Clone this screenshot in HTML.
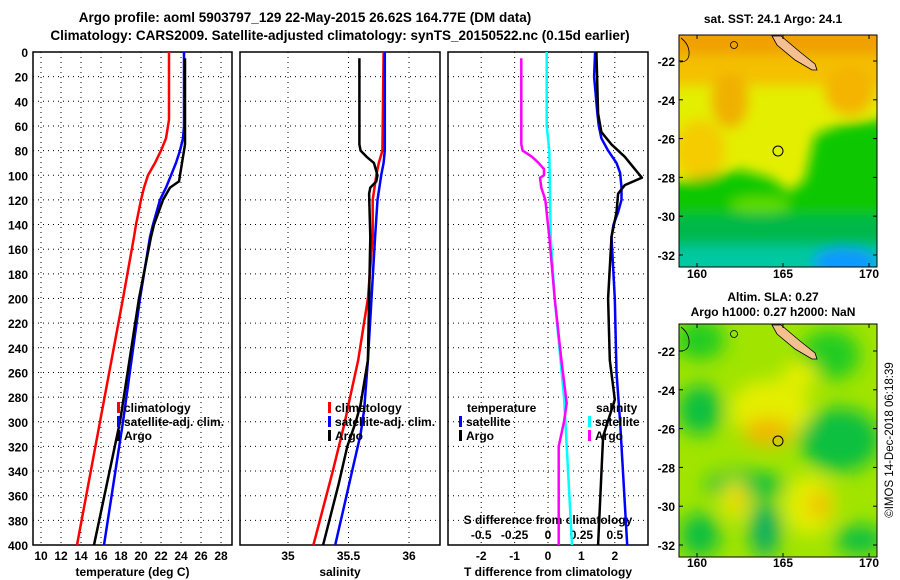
<!DOCTYPE html>
<html><head><meta charset="utf-8">
<style>
body{margin:0;background:#fff;}
svg{display:block;font-family:"Liberation Sans",sans-serif;font-weight:bold;}
</style></head>
<body>
<svg id="chart" width="900" height="580" viewBox="0 0 900 580" xmlns="http://www.w3.org/2000/svg">
<defs>
<filter id="blur1" x="-20%" y="-20%" width="140%" height="140%"><feGaussianBlur stdDeviation="6"/></filter>
<filter id="blur2" x="-20%" y="-20%" width="140%" height="140%"><feGaussianBlur stdDeviation="9"/></filter>
<clipPath id="clipMap1"><rect x="679" y="35" width="198" height="232"/></clipPath>
<clipPath id="clipMap2"><rect x="679" y="324" width="198" height="233"/></clipPath>
</defs>
<text x="305" y="22" font-size="13.5" text-anchor="middle">Argo profile: aoml 5903797_129 22-May-2015 26.62S 164.77E (DM data)</text>
<text x="340" y="40" font-size="13.5" text-anchor="middle">Climatology: CARS2009. Satellite-adjusted climatology: synTS_20150522.nc (0.15d earlier)</text>

<g clip-path="url(#clipMap1)">
<rect x="679" y="35" width="198" height="232" fill="#e4ee00"/>
<g filter="url(#blur1)">
<rect x="660" y="20" width="240" height="40" fill="#f0a000"/>
<rect x="660" y="55" width="240" height="30" fill="#f4c000"/>
<ellipse cx="730" cy="100" rx="18" ry="28" fill="#f0b000"/>
<ellipse cx="850" cy="90" rx="25" ry="25" fill="#f4b400"/>
<ellipse cx="700" cy="150" rx="25" ry="30" fill="#f4cc00"/>
<polygon points="660,185 700,178 740,170 770,178 790,192 805,180 815,135 840,125 880,120 900,120 900,300 660,300" fill="#10c800"/>
<rect x="660" y="215" width="240" height="60" fill="#00b848"/>
<rect x="660" y="245" width="240" height="40" fill="#00c8a0"/>
<ellipse cx="845" cy="262" rx="32" ry="14" fill="#1098ff"/>
<ellipse cx="760" cy="205" rx="30" ry="8" fill="#60dc00"/>
</g>
<polygon points="772,36 781,36 800,52 815,64 817,70 812,70 795,60 777,45" fill="#f4c090" stroke="#000" stroke-width="0.8"/>
<path d="M681,38 Q690,45 689,55 Q688,62 680,62" fill="none" stroke="#000" stroke-width="0.8"/>
<circle cx="734" cy="45" r="3.5" fill="none" stroke="#000" stroke-width="0.8"/>
<circle cx="778" cy="151" r="5" fill="none" stroke="#000" stroke-width="1"/>
</g>
<rect x="679" y="35" width="198" height="232" fill="none" stroke="#000" stroke-width="1"/>
<text x="773" y="23" font-size="12" text-anchor="middle">sat. SST: 24.1 Argo: 24.1</text>

<g clip-path="url(#clipMap2)">
<rect x="679" y="324" width="198" height="233" fill="#a0e400"/>
<g filter="url(#blur2)">
<ellipse cx="700" cy="340" rx="25" ry="20" fill="#20cc20"/>
<ellipse cx="830" cy="355" rx="30" ry="25" fill="#20cc20"/>
<ellipse cx="700" cy="410" rx="22" ry="25" fill="#10c040"/>
<ellipse cx="840" cy="440" rx="40" ry="32" fill="#10c040"/>
<ellipse cx="770" cy="410" rx="40" ry="30" fill="#e4ee00"/>
<ellipse cx="768" cy="432" rx="25" ry="14" fill="#f0b800"/>
<ellipse cx="745" cy="485" rx="40" ry="14" fill="#10c040"/>
<ellipse cx="735" cy="500" rx="14" ry="20" fill="#e4ee00"/>
<ellipse cx="738" cy="500" rx="7" ry="10" fill="#f0c000"/>
<ellipse cx="810" cy="505" rx="25" ry="30" fill="#e4ee00"/>
<ellipse cx="820" cy="505" rx="12" ry="14" fill="#f0c000"/>
<ellipse cx="765" cy="530" rx="15" ry="28" fill="#10b060"/>
<ellipse cx="700" cy="535" rx="20" ry="22" fill="#10c040"/>
<ellipse cx="860" cy="540" rx="25" ry="15" fill="#10c040"/>
<ellipse cx="800" cy="375" rx="18" ry="14" fill="#e4ee00"/>
</g>
<polygon points="772,325 781,325 800,341 815,353 817,359 812,359 795,349 777,334" fill="#f4c090" stroke="#000" stroke-width="0.8"/>
<path d="M681,327 Q690,334 689,344 Q688,351 680,351" fill="none" stroke="#000" stroke-width="0.8"/>
<circle cx="734" cy="334" r="3.5" fill="none" stroke="#000" stroke-width="0.8"/>
<circle cx="778" cy="441" r="5" fill="none" stroke="#000" stroke-width="1"/>
</g>
<rect x="679" y="324" width="198" height="233" fill="none" stroke="#000" stroke-width="1"/>
<text x="773" y="301" font-size="12" text-anchor="middle">Altim. SLA: 0.27</text>
<text x="773" y="316" font-size="12" text-anchor="middle">Argo h1000: 0.27 h2000: NaN</text>
<text transform="translate(893,440) rotate(-90)" font-size="11.5" font-weight="normal" text-anchor="middle">©IMOS 14-Dec-2018 06:18:39</text>
<g id="plots"></g>
</svg>
<script>
// ---- data ----
const depthTicks = [0,20,40,60,80,100,120,140,160,180,200,220,240,260,280,300,320,340,360,380,400];
const tempTicks = [10,12,14,16,18,20,22,24,26,28];
const salTicks = [35,35.5,36];
const salTickLabels = ["35","35.5","36"];
const tdiffTicks = [-2,-1,0,1,2];
const sdiffTicks = [-0.5,-0.25,0,0.25,0.5];
const sdiffLabels = ["-0.5","-0.25","0","0.25","0.5"];
const latTicks = [-22,-24,-26,-28,-30,-32];
const lonTicks = [160,165,170];

const climTDepth = [0,55,70,80,90,100,110,120,140,150,200,300,400];
const climTValue = [22.8,22.8,22.5,22.0,21.4,20.7,20.3,20.0,19.5,19.3,18.2,15.9,13.6];
const satTDepth = [0,60,70,80,90,100,110,120,140,150,200,300,400];
const satTValue = [24.3,24.3,24.2,23.9,23.5,23.0,22.5,21.9,21.2,20.9,19.9,18.2,16.3];
const argoTDepth = [5,75,80,90,100,105,110,120,140,150,200,300,400];
const argoTValue = [24.4,24.4,24.3,24.1,23.9,23.8,22.9,22.2,21.3,21.0,19.8,17.9,15.3];

const climSDepth = [0,80,90,100,120,150,200,250,286,300,340,370,400];
const climSValue = [35.79,35.78,35.75,35.73,35.70,35.70,35.66,35.58,35.50,35.47,35.37,35.29,35.21];
const satSDepth = [0,80,90,100,120,150,200,250,290,310,340,370,400];
const satSValue = [35.80,35.80,35.79,35.77,35.74,35.72,35.69,35.66,35.63,35.60,35.53,35.46,35.39];
const argoSDepth = [5,75,80,85,90,100,105,110,115,150,200,250,286,300,320,350,400];
const argoSValue = [35.59,35.59,35.60,35.65,35.71,35.74,35.73,35.68,35.67,35.68,35.67,35.66,35.60,35.56,35.49,35.42,35.29];

const satTdDepth = [0,20,50,60,70,80,90,98,110,120,130,140,150,200,260,300,400];
const satTdValue = [1.41,1.38,1.48,1.52,1.6,1.8,2.05,2.16,2.2,2.2,2.1,1.96,1.9,2.0,2.05,2.16,2.37];
const argoTdDepth = [0,50,65,75,85,95,102,108,115,130,150,200,250,282,312,400];
const argoTdValue = [1.45,1.5,1.6,1.9,2.3,2.6,2.81,2.3,2.1,2.05,1.9,1.8,1.85,2.0,1.65,1.5];
const satSdDepth = [0,60,80,150,200,280,300,400];
const satSdValue = [-0.01,-0.01,0.01,0.02,0.05,0.12,0.13,0.18];
const argoSdDepth = [5,75,80,85,90,95,100,102,110,120,150,200,250,285,300,320,400];
const argoSdValue = [-0.2,-0.2,-0.19,-0.12,-0.07,-0.03,-0.03,-0.06,-0.05,-0.02,0.01,0.05,0.10,0.14,0.12,0.08,0.08];

// ---- scales ----
const TOP=52, BOT=545;
const yD = d => TOP + d*(BOT-TOP)/400;
const xT = t => 33 + (t-9.2)*10;
const xS = s => 288 + (s-35)*121;
const xTd = t => 548 + t*33.4;
const xSd = s => 548 + s*133.6;
const NS="http://www.w3.org/2000/svg";
const root=document.getElementById('plots');
function mk(tag,attrs,parent){const e=document.createElementNS(NS,tag);for(const k in attrs)e.setAttribute(k,attrs[k]);(parent||root).appendChild(e);return e;}
function txt(s,x,y,size,anchor,parent){const e=mk('text',{x:x,y:y,'font-size':size,'text-anchor':anchor||'middle'},parent);e.textContent=s;return e;}

function panel(name,x0,x1,vTicks,xf,tickLabels,xlabel){
  const g=mk('g',{});
  
  
  depthTicks.forEach(d=>{
    const l=mk('line',{x1:x0,x2:x1,y1:yD(d),y2:yD(d),stroke:'#000','stroke-width':1,'stroke-dasharray':'1,4'},g);
    
    
  });
  vTicks.forEach((v,i)=>{
    const l=mk('line',{x1:xf(v),x2:xf(v),y1:TOP,y2:BOT,stroke:'#000','stroke-width':1,'stroke-dasharray':'1,4'},g);
    
    
    const t=txt(tickLabels[i],xf(v),560,12,'middle',g);
    
    
  });
  const r=mk('rect',{x:x0,y:TOP,width:x1-x0,height:BOT-TOP,fill:'none',stroke:'#000','stroke-width':1.5},g);
  
  
  const t=txt(xlabel,(x0+x1)/2,576,12,'middle',g);
  
  
  return g;
}
function series(name,depths,vals,xf,color){
  const pts=depths.map((d,i)=>xf(vals[i]).toFixed(1)+','+yD(d).toFixed(1)).join(' ');
  const p=mk('polyline',{points:pts,fill:'none',stroke:color,'stroke-width':2.5,'stroke-linejoin':'round'});
  
  
}
function legend(items,xm,y0){
  items.forEach((it,i)=>{
    const y=y0+i*14;
    if(it[1]){
      const m=mk('rect',{x:xm,y:y-10,width:3,height:11,fill:it[1]});
      
      
    }
    const t=txt(it[0],xm+(it[1]?7:8),y,12,'start');
    
    
  });
}

panel('temperature-panel',33,232,tempTicks,xT,tempTicks.map(String),'temperature (deg C)');
panel('salinity-panel',240,440,salTicks,xS,salTickLabels,'salinity');
panel('difference-panel',448,648,tdiffTicks,xTd,tdiffTicks.map(String),'T difference from climatology');

depthTicks.forEach(d=>{
  const t=txt(String(d),28,yD(d)+5,12,'end');
  
  
});
sdiffTicks.forEach((s,i)=>{
  const t=txt(sdiffLabels[i],xSd(s),539,12,'middle');
  
  
});
{const t=txt('S difference from climatology',548,524,12,'middle');

}

// map ticks
const lat1 = l => 61 + (-22-l)*19.4;
const lat2 = l => 351 + (-22-l)*19.4;
const lonX = l => 697 + (l-160)*17.2;
latTicks.forEach(l=>{
  [lat1,lat2].forEach(f=>{
    mk('line',{x1:877,x2:873,y1:f(l),y2:f(l),stroke:'#000'});
    mk('line',{x1:679,x2:683,y1:f(l),y2:f(l),stroke:'#000'});
    const t=txt(String(l),675,f(l)+5,12,'end');
    
    
  });
});
lonTicks.forEach(l=>{
  [[278,35,267],[567,324,557]].forEach(a=>{
    mk('line',{x1:lonX(l),x2:lonX(l),y1:a[1],y2:a[1]+4,stroke:'#000'});
    mk('line',{x1:lonX(l),x2:lonX(l),y1:a[2],y2:a[2]-4,stroke:'#000'});
    const t=txt(String(l),lonX(l),a[0],12,'middle');
    
    
  });
});

series('temperature-climatology',climTDepth,climTValue,xT,'#ff0000');
series('temperature-satellite-adj',satTDepth,satTValue,xT,'#0000ff');
series('temperature-argo',argoTDepth,argoTValue,xT,'#000000');
series('salinity-climatology',climSDepth,climSValue,xS,'#ff0000');
series('salinity-satellite-adj',satSDepth,satSValue,xS,'#0000ff');
series('salinity-argo',argoSDepth,argoSValue,xS,'#000000');
series('s-diff-satellite',satSdDepth,satSdValue,xSd,'#00ffff');
series('s-diff-argo',argoSdDepth,argoSdValue,xSd,'#ff00ff');
series('t-diff-satellite',satTdDepth,satTdValue,xTd,'#0000ff');
series('t-diff-argo',argoTdDepth,argoTdValue,xTd,'#000000');

legend([['climatology','#ff0000'],['satellite-adj. clim.','#0000ff'],['Argo','#000000']],117,412);
legend([['climatology','#ff0000'],['satellite-adj. clim.','#0000ff'],['Argo','#000000']],328,412);
legend([['temperature',null],['satellite','#0000ff'],['Argo','#000000']],459,412);
legend([['salinity',null],['satellite','#00ffff'],['Argo','#ff00ff']],588,412);
</script>
</body></html>
